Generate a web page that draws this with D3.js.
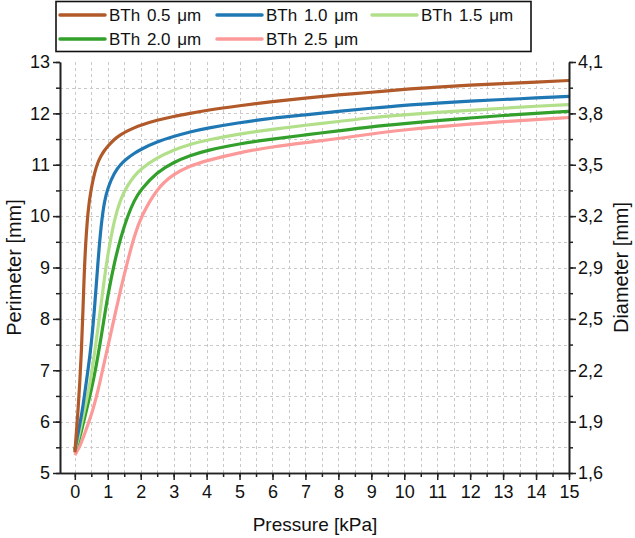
<!DOCTYPE html>
<html>
<head>
<meta charset="utf-8">
<script src="https://cdn.jsdelivr.net/npm/d3@7"></script>
<style>
  html, body { margin: 0; padding: 0; background: #fff; }
  svg { display: block; font-family: "Liberation Sans", Arial, sans-serif; }
</style>
</head>
<body>
<svg id="chart" width="635" height="538"></svg>
<script>
// ---- Data ----
const seriesNames = ["BTh 0.5 \u03bcm", "BTh 1.0 \u03bcm", "BTh 1.5 \u03bcm", "BTh 2.0 \u03bcm", "BTh 2.5 \u03bcm"];
const pressure = [0, 0.05, 0.1, 0.15, 0.2, 0.25, 0.3, 0.4, 0.5, 0.6, 0.7, 0.8, 0.9, 1.0, 1.2, 1.4, 1.6, 1.8, 2.0, 2.5, 3, 3.5, 4, 5, 6, 7, 8, 9, 10, 11, 12, 13, 14, 15];
const perim05 = [5.4, 5.8, 6.25, 6.75, 7.35, 8.2, 9.2, 10.15, 10.55, 10.85, 11.05, 11.18, 11.28, 11.36, 11.5, 11.59, 11.66, 11.72, 11.77, 11.87, 11.94, 12.0, 12.06, 12.15, 12.23, 12.3, 12.36, 12.41, 12.47, 12.51, 12.55, 12.58, 12.61, 12.64];
const perim10 = [5.45, 5.62, 5.78, 5.95, 6.12, 6.32, 6.55, 7.0, 7.5, 8.2, 9.1, 9.85, 10.3, 10.55, 10.85, 11.02, 11.13, 11.22, 11.3, 11.45, 11.55, 11.64, 11.71, 11.82, 11.91, 11.97, 12.04, 12.1, 12.16, 12.2, 12.24, 12.27, 12.3, 12.33];
const perim15 = [5.45, 5.55, 5.67, 5.8, 5.95, 6.1, 6.25, 6.55, 6.9, 7.35, 7.8, 8.3, 8.8, 9.25, 9.95, 10.35, 10.6, 10.78, 10.92, 11.14, 11.29, 11.4, 11.48, 11.6, 11.69, 11.77, 11.84, 11.92, 11.97, 12.02, 12.06, 12.1, 12.14, 12.17];
const perim20 = [5.45, 5.52, 5.6, 5.7, 5.82, 5.95, 6.08, 6.35, 6.62, 6.92, 7.27, 7.65, 8.05, 8.45, 9.1, 9.6, 10.0, 10.3, 10.52, 10.86, 11.05, 11.18, 11.28, 11.41, 11.5, 11.58, 11.66, 11.74, 11.8, 11.86, 11.91, 11.96, 12.0, 12.04];
const perim25 = [5.35, 5.4, 5.46, 5.52, 5.6, 5.68, 5.77, 5.95, 6.13, 6.35, 6.6, 6.88, 7.17, 7.45, 8.03, 8.6, 9.12, 9.6, 9.98, 10.55, 10.82, 10.98, 11.08, 11.24, 11.35, 11.43, 11.51, 11.6, 11.68, 11.74, 11.79, 11.84, 11.88, 11.92];
const seriesColors = ["#B15928", "#1F78B4", "#B2DF8A", "#33A02C", "#FB9A99"];

const pressureTicks = [0, 1, 2, 3, 4, 5, 6, 7, 8, 9, 10, 11, 12, 13, 14, 15];
const perimeterTicks = [5, 6, 7, 8, 9, 10, 11, 12, 13];
const diameterTickLabels = ["1,6", "1,9", "2,2", "2,5", "2,9", "3,2", "3,5", "3,8", "4,1"];

// ---- Layout ----
const svg = d3.select("#chart");
const L = 60, R = 569, T = 62, B = 473;
const x = d3.scaleLinear().domain([-0.45, 15]).range([L, R]);
const y = d3.scaleLinear().domain([5, 13]).range([B, T]);

const minorX = d3.range(0, 15.001, 0.5);
const minorY = d3.range(5, 13.001, 0.5);

// Gridlines
const grid = svg.append("g").attr("stroke", "#c9c9c9").attr("stroke-width", 1).attr("stroke-dasharray", "3,3");
grid.selectAll("line.vx").data(minorX.filter(d => d < 15)).enter().append("line")
  .attr("x1", d => Math.round(x(d)) + 0.5).attr("x2", d => Math.round(x(d)) + 0.5)
  .attr("y1", T).attr("y2", B);
grid.selectAll("line.hy").data(minorY.filter(d => d > 5 && d < 13)).enter().append("line")
  .attr("x1", L).attr("x2", R)
  .attr("y1", d => Math.round(y(d)) + 0.5).attr("y2", d => Math.round(y(d)) + 0.5);

// Lines
const allSeries = [perim05, perim10, perim15, perim20, perim25];
const line = d3.line().x(d => x(d[0])).y(d => y(d[1])).curve(d3.curveBasis);
svg.append("clipPath").attr("id", "clip").append("rect")
  .attr("x", L).attr("y", T - 5).attr("width", R - L).attr("height", B - T + 5);
const lines = svg.append("g").attr("clip-path", "url(#clip)");
allSeries.slice().reverse().forEach((vals, ri) => {
  const i = allSeries.length - 1 - ri;
  lines.append("path")
    .datum(pressure.map((p, k) => [p, vals[k]]))
    .attr("fill", "none")
    .attr("stroke", seriesColors[i])
    .attr("stroke-width", 3.2)
    .attr("stroke-linejoin", "round")
    .attr("d", line);
});

// Axes
const axisColor = "#222";
const fontSize = "18px";

function styleAxis(g) {
  g.selectAll("path.domain").attr("stroke", axisColor).attr("stroke-width", 1.6);
  g.selectAll(".tick line").attr("stroke", axisColor).attr("stroke-width", 1.5);
  g.selectAll(".tick text").attr("fill", "#111").style("font-size", fontSize);
}

// bottom
svg.append("g").attr("transform", `translate(0,${B})`)
  .call(d3.axisBottom(x).tickValues(minorX).tickSize(4).tickSizeOuter(0).tickFormat(""))
  .call(styleAxis);
svg.append("g").attr("transform", `translate(0,${B})`)
  .call(d3.axisBottom(x).tickValues(pressureTicks).tickSize(7).tickSizeOuter(0).tickPadding(5).tickFormat(d3.format("d")))
  .call(styleAxis)
  .call(g => g.select("path.domain").attr("d", `M${L},0.5H${R}`));

// left
svg.append("g").attr("transform", `translate(${L},0)`)
  .call(d3.axisLeft(y).tickValues(minorY).tickSize(4).tickSizeOuter(0).tickFormat(""))
  .call(styleAxis);
svg.append("g").attr("transform", `translate(${L},0)`)
  .call(d3.axisLeft(y).tickValues(perimeterTicks).tickSize(7).tickSizeOuter(0).tickPadding(3).tickFormat(d3.format("d")))
  .call(styleAxis);

// right
svg.append("g").attr("transform", `translate(${R},0)`)
  .call(d3.axisRight(y).tickValues(minorY).tickSize(4).tickSizeOuter(0).tickFormat(""))
  .call(styleAxis);
svg.append("g").attr("transform", `translate(${R},0)`)
  .call(d3.axisRight(y).tickValues(perimeterTicks).tickSize(7).tickSizeOuter(0).tickPadding(2)
    .tickFormat((d, i) => diameterTickLabels[i]))
  .call(styleAxis);

// Axis titles
svg.append("text").attr("x", 315).attr("y", 531).attr("text-anchor", "middle")
  .style("font-size", "19px").attr("fill", "#111").text("Pressure [kPa]");
svg.append("text").attr("transform", `translate(21,${(T + B) / 2}) rotate(-90)`).attr("text-anchor", "middle")
  .style("font-size", "20px").attr("fill", "#111").text("Perimeter [mm]");
svg.append("text").attr("transform", `translate(628,${(T + B) / 2}) rotate(-90)`).attr("text-anchor", "middle")
  .style("font-size", "20px").attr("fill", "#111").text("Diameter [mm]");

// Legend
const leg = svg.append("g");
leg.append("rect").attr("x", 56).attr("y", 1.5).attr("width", 475).attr("height", 50)
  .attr("fill", "#fff").attr("stroke", "#111").attr("stroke-width", 1.6);
const legPos = [[60, 15], [217, 15], [372, 15], [60, 39], [217, 39]];
seriesNames.forEach((name, i) => {
  const [lx, ly] = legPos[i];
  leg.append("line").attr("x1", lx).attr("x2", lx + 45).attr("y1", ly).attr("y2", ly)
    .attr("stroke", seriesColors[i]).attr("stroke-width", 3.5).attr("stroke-linecap", "round");
  leg.append("text").attr("x", lx + 49).attr("y", ly + 6)
    .style("font-size", "17px").style("word-spacing", "2px").attr("fill", "#111").text(name);
});
</script>
</body>
</html>
